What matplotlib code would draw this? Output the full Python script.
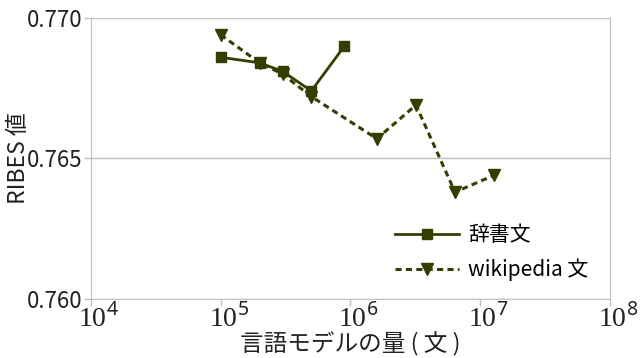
import math
import matplotlib
matplotlib.use("Agg")
import matplotlib.pyplot as plt
import matplotlib.transforms as mtransforms
from matplotlib.ticker import FixedLocator, FuncFormatter, NullLocator

plt.rcParams['font.family'] = ['Noto Sans CJK JP', 'DejaVu Sans']
plt.rcParams['mathtext.fontset'] = 'custom'
plt.rcParams['mathtext.rm'] = 'Liberation Serif'
plt.rcParams['mathtext.sf'] = 'Noto Sans'

# 言語モデルの量（文）と RIBES 値
dict_sizes = [1.0e5, 2.0e5, 3.0e5, 5.0e5, 9.0e5]
dict_ribes = [0.7686, 0.7684, 0.7681, 0.7674, 0.7690]

wiki_sizes = [1.0e5, 2.0e5, 3.0e5, 5.0e5, 1.6e6, 3.2e6, 6.4e6, 1.28e7]
wiki_ribes = [0.7694, 0.7684, 0.7680, 0.7672, 0.7657, 0.7669, 0.7638, 0.7644]

x_ticks = [1e4, 1e5, 1e6, 1e7, 1e8]
y_ticks = [0.760, 0.765, 0.770]

color = '#333f00'
text_color = '#222222'

fig = plt.figure(figsize=(6.4, 3.58), dpi=100)
ax = fig.add_axes([0.142, 0.165, 0.811, 0.785])

ax.plot(dict_sizes, dict_ribes, color=color, lw=2, marker='s', ms=7.5,
        label='辞書文', zorder=3)
ax.plot(wiki_sizes, wiki_ribes, color=color, lw=2.2, ls=(0, (2.0, 1.4)),
        marker='v', ms=8, label='wikipedia 文', zorder=2)

ax.set_xscale('log')
ax.set_xlim(1e4, 1e8)
ax.set_ylim(0.760, 0.770)
ax.xaxis.set_major_locator(FixedLocator(x_ticks))
ax.xaxis.set_minor_locator(NullLocator())
ax.xaxis.set_major_formatter(FuncFormatter(
    lambda v, p: r'$10^{\mathsf{%d}}$' % round(math.log10(v))))
ax.set_yticks(y_ticks)
ax.set_yticklabels(['%.3f' % v for v in y_ticks])

ax.grid(axis='y', color='#c0c0c0', lw=1)
for s in ['left', 'bottom', 'right']:
    ax.spines[s].set_color('#c0c0c0')
ax.spines['top'].set_visible(False)
ax.tick_params(axis='both', colors='#c0c0c0', length=5, width=1)
ax.tick_params(axis='y', labelsize=16, labelcolor=text_color, pad=1)
ax.tick_params(axis='x', labelsize=20, labelcolor=text_color, pad=-1)

# x の目盛りラベルを少し右へずらす
shift = mtransforms.ScaledTranslation(8 / 100, 0, fig.dpi_scale_trans)
for lbl in ax.get_xticklabels():
    lbl.set_transform(lbl.get_transform() + shift)

ax.set_xlabel('言語モデルの量 ( 文 )', fontsize=17, color=text_color, labelpad=-2)
ax.set_ylabel('RIBES 値', fontsize=16.5, color=text_color, labelpad=-2)

ax.legend(loc='center left', bbox_to_anchor=(0.617, 0.295),
          bbox_transform=fig.transFigure, frameon=False, borderaxespad=0,
          borderpad=0, fontsize=15, handlelength=3.1, handletextpad=0.4,
          labelspacing=0.6)

fig.savefig('out.png', dpi=100)
